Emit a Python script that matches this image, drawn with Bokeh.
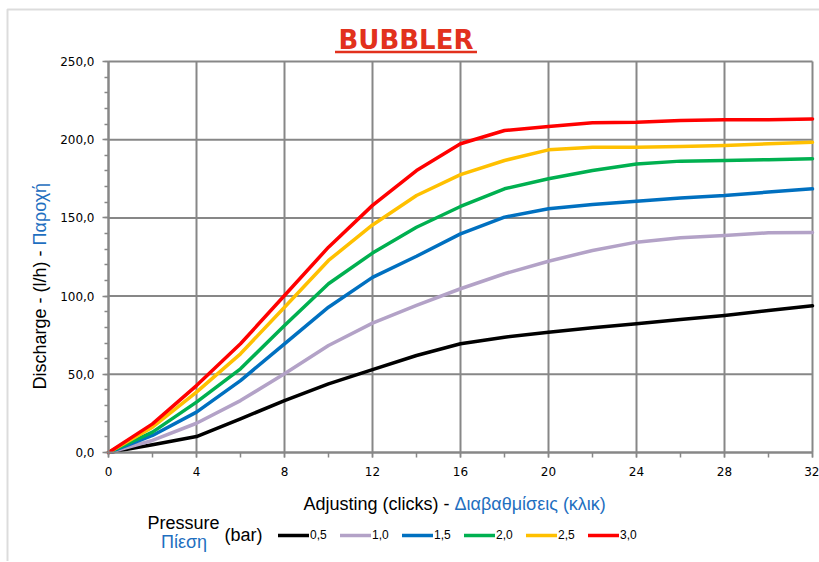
import math
from bokeh.plotting import figure
from bokeh.models import (Range1d, FixedTicker, Label, Legend, LegendItem, Arrow,
                          LinearAxis, BoxAnnotation)
from bokeh.embed import file_html
from bokeh.resources import INLINE

# ---------------- data ----------------
clicks = [0, 2, 4, 6, 8, 10, 12, 14, 16, 18, 20, 22, 24, 26, 28, 30, 32]
p05 = [0, 5.0, 10.2, 21.5, 33.2, 43.9, 53.0, 62.0, 69.5, 73.7, 76.9, 79.7, 82.3, 85.0, 87.6, 90.8, 93.8]
p10 = [0, 7.7, 18.7, 33.2, 50.3, 68.4, 82.7, 94.0, 104.7, 114.3, 122.3, 129.2, 134.5, 137.3, 138.7, 140.5, 140.7]
p15 = [0, 10.9, 25.8, 46.0, 69.5, 92.9, 112.0, 125.5, 139.8, 150.5, 155.8, 158.6, 160.7, 162.8, 164.3, 166.5, 168.6]
p20 = [0, 13.0, 32.2, 53.5, 81.2, 107.9, 127.5, 144.0, 157.3, 168.6, 175.0, 180.3, 184.5, 186.3, 186.7, 187.2, 187.8]
p25 = [0, 16.2, 38.6, 63.1, 92.9, 122.8, 145.5, 164.3, 177.7, 186.7, 193.5, 195.2, 195.2, 195.7, 196.3, 197.4, 198.4]
p30 = [0, 18.3, 42.8, 69.5, 100.4, 131.3, 158.0, 180.3, 197.4, 205.9, 208.5, 210.8, 211.2, 212.3, 212.8, 212.8, 213.3]

series_labels = ["0,5", "1,0", "1,5", "2,0", "2,5", "3,0"]
series_values = [p05, p10, p15, p20, p25, p30]
series_colors = ["#000000", "#B3A2C7", "#0070C0", "#00B050", "#FFC000", "#FF0000"]

x_ticks = [0, 4, 8, 12, 16, 20, 24, 28, 32]
x_minor = [0, 2, 4, 6, 8, 10, 12, 14, 16, 18, 20, 22, 24, 26, 28, 30, 32]
y_ticks = [0, 50, 100, 150, 200, 250]
y_tick_labels = ["0,0", "50,0", "100,0", "150,0", "200,0", "250,0"]
y_minor = [0, 10, 20, 30, 40, 50, 60, 70, 80, 90, 100, 110, 120, 130, 140, 150,
           160, 170, 180, 190, 200, 210, 220, 230, 240, 250]

title_text = "BUBBLER"
x_title_en = "Adjusting (clicks) -"
x_title_gr = "Διαβαθμίσεις (κλικ)"
y_title_en = "Discharge - (l/h) -"
y_title_gr = "Παροχή"
legend_title_en = "Pressure"
legend_title_gr = "Πίεση"
legend_unit = "(bar)"

GRID = "#878787"
BLUE_TEXT = "#1F6FC0"
TEXT_FONT = "Liberation Sans"

# ---------------- layout geometry (pixels) ----------------
W, H = 819, 561
X0_PX, X1_PX = 108, 812      # plot area left/right
Y0_PX, Y1_PX = 452, 61       # plot area bottom/top
XMAX, YMAX = 32, 250
kx = (X1_PX - X0_PX) / XMAX
ky = (Y0_PX - Y1_PX) / YMAX

def px_x(px):
    return (px - X0_PX) / kx

def px_y(py):
    return (Y0_PX - py) / ky

p = figure(width=W, height=H, output_backend="svg", toolbar_location=None,
           x_range=Range1d(px_x(0), px_x(W)), y_range=Range1d(px_y(H), px_y(0)),
           x_axis_location=None, y_axis_location=None, min_border=0,
           background_fill_color="white", border_fill_color="white")
p.outline_line_color = None
p.xgrid.visible = False
p.ygrid.visible = False

# outer chart border (left and top edges visible)
p.add_layout(BoxAnnotation(left=px_x(7), top=px_y(9), right=px_x(W + 20), bottom=px_y(H + 20),
                           fill_alpha=0, line_color="#8c8c8c", line_width=2))

# grid lines (from tick arrays)
p.segment(x0=x_ticks, y0=[0] * len(x_ticks), x1=x_ticks, y1=[YMAX] * len(x_ticks),
          line_color=GRID, line_width=2)
p.segment(x0=[0] * len(y_ticks), y0=y_ticks, x1=[XMAX] * len(y_ticks), y1=y_ticks,
          line_color=GRID, line_width=2)

# axes at fixed data locations
xaxis = LinearAxis(fixed_location=0, bounds=(0, XMAX),
                   ticker=FixedTicker(ticks=x_ticks, minor_ticks=x_minor))
xaxis.major_label_overrides = {t: str(t) for t in x_ticks}
yaxis = LinearAxis(fixed_location=0, bounds=(0, YMAX),
                   ticker=FixedTicker(ticks=y_ticks, minor_ticks=y_minor))
yaxis.major_label_overrides = {t: l for t, l in zip(y_ticks, y_tick_labels)}
for ax in (xaxis, yaxis):
    ax.axis_line_color = GRID
    ax.axis_line_width = 2
    ax.major_tick_line_color = GRID
    ax.minor_tick_line_color = GRID
    ax.major_tick_line_width = 1.5
    ax.minor_tick_line_width = 1.5
    ax.major_tick_in = 0
    ax.minor_tick_in = 0
    ax.major_label_text_font = "DejaVu Sans"
    ax.major_label_text_font_size = "12px"
    ax.major_label_text_color = "#000000"
xaxis.major_tick_out = 5
xaxis.minor_tick_out = 5
xaxis.major_label_standoff = 9
yaxis.major_tick_out = 6
yaxis.minor_tick_out = 4
yaxis.major_label_standoff = 8
p.add_layout(xaxis, "below")
p.add_layout(yaxis, "left")

# ---------------- lines ----------------
items = []
for lab, vals, col in zip(series_labels, series_values, series_colors):
    r = p.line(clicks, vals, line_color=col, line_width=3.5, line_join="round", line_cap="round")
    items.append(LegendItem(label=lab, renderers=[r]))

legend = Legend(items=items, orientation="horizontal", location=(278, H - 542),
                glyph_width=31, glyph_height=14, label_height=14, label_width=18,
                label_standoff=1, spacing=12, padding=0, margin=0,
                border_line_color=None, background_fill_alpha=0,
                label_text_font="Liberation Sans", label_text_font_size="12px",
                label_text_color="#000000")
p.add_layout(legend, "center")

# ---------------- texts ----------------
title_cx = px_x(405.5)
p.add_layout(Label(x=title_cx, y=px_y(39.5), text=title_text, text_align="center",
                   text_baseline="middle", text_font="DejaVu Sans", text_font_style="bold",
                   text_font_size="26px", text_color="#E2311D"))
half_w = 71 / kx
p.add_layout(Arrow(end=None, x_start=title_cx - half_w, x_end=title_cx + half_w,
                   y_start=px_y(51.5), y_end=px_y(51.5), line_color="#E2311D", line_width=2.5))

# x axis title
p.add_layout(Label(x=px_x(449), y=px_y(503), text=x_title_en, text_align="right",
                   text_baseline="middle", text_font=TEXT_FONT, text_font_size="18px",
                   text_color="#000000"))
p.add_layout(Label(x=px_x(454), y=px_y(503), text=x_title_gr, text_align="left",
                   text_baseline="middle", text_font=TEXT_FONT, text_font_size="18px",
                   text_color=BLUE_TEXT))

# y axis title (rotated)
p.add_layout(Label(x=px_x(39), y=px_y(250), text=y_title_en, angle=math.pi / 2,
                   text_align="right", text_baseline="middle", text_font=TEXT_FONT,
                   text_font_size="18px", text_color="#000000"))
p.add_layout(Label(x=px_x(39), y=px_y(245), text=y_title_gr, angle=math.pi / 2,
                   text_align="left", text_baseline="middle", text_font=TEXT_FONT,
                   text_font_size="18px", text_color=BLUE_TEXT))

# legend title
p.add_layout(Label(x=px_x(147), y=px_y(522), text=legend_title_en, text_align="left",
                   text_baseline="middle", text_font=TEXT_FONT, text_font_size="18px",
                   text_color="#000000"))
p.add_layout(Label(x=px_x(183.5), y=px_y(541), text=legend_title_gr, text_align="center",
                   text_baseline="middle", text_font=TEXT_FONT, text_font_size="18px",
                   text_color=BLUE_TEXT))
p.add_layout(Label(x=px_x(224), y=px_y(534), text=legend_unit, text_align="left",
                   text_baseline="middle", text_font=TEXT_FONT, text_font_size="18px",
                   text_color="#000000"))

open("out.html", "w").write(file_html(p, INLINE))
